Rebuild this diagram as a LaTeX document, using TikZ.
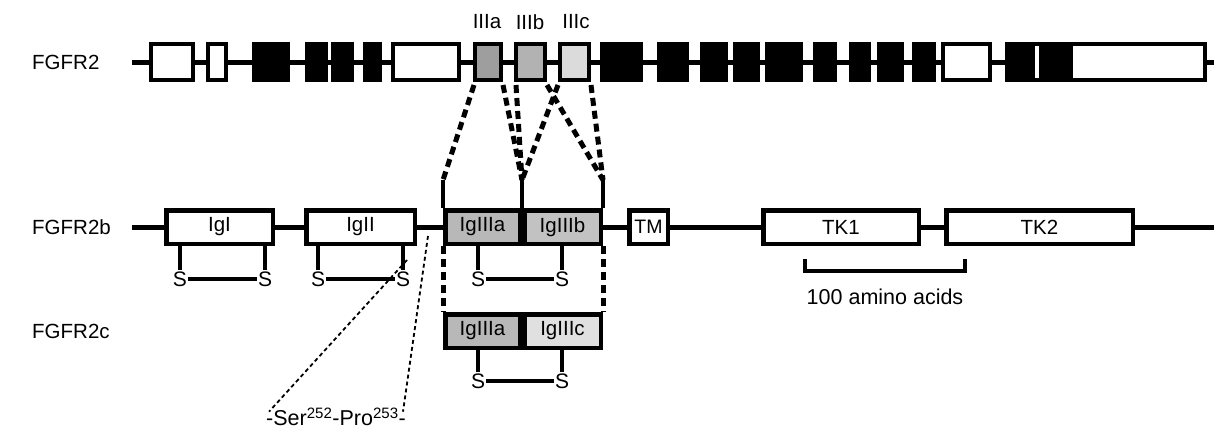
\documentclass[tikz,border=0pt]{standalone}
\usepackage{fontspec}
\setmainfont{Liberation Sans}
\begin{document}
\begin{tikzpicture}[x=1pt,y=-1pt,
  lbl/.style={font=\fontsize{20.5}{24}\selectfont, inner sep=0pt},
  ex/.style={draw, line width=4pt, minimum height=36pt, inner sep=0pt, anchor=center},
  dom/.style={draw, line width=4.5pt, minimum height=33.5pt, inner sep=0pt, anchor=center, fill=white, font=\fontsize{20.5}{24}\selectfont},
  bb/.style={line width=5pt},
  thin/.style={line width=4pt},
  bigdash/.style={line width=5pt, dash pattern=on 8pt off 5pt},
  dotline/.style={line width=1.8pt, dash pattern=on 4pt off 3pt},
  sl/.style={font=\fontsize{21}{24}\selectfont, inner sep=1pt}]
\useasboundingbox (0,0) rectangle (1217,432);
\definecolor{gA}{gray}{0.62}
\definecolor{gB}{gray}{0.70}
\definecolor{gC}{gray}{0.86}
\definecolor{dA}{gray}{0.72}
\definecolor{dB}{gray}{0.76}
\definecolor{dC}{gray}{0.88}

% ---------- row 1: FGFR2 gene ----------
\node[lbl, anchor=west] (l1) at (32,62) {FGFR2};
\coordinate (r1s) at (132,62);
\coordinate (r1e) at (1214,62);
\draw[bb] (r1s) -- (r1e);
\node[ex, fill=white, minimum width=42pt] (e1) at (172,62) {};
\node[ex, fill=white, minimum width=18pt] (e2) at (217,62) {};
\node[ex, fill=black, minimum width=34pt] (e3) at (271,62) {};
\node[ex, fill=black, minimum width=19pt] (e4) at (316.5,62) {};
\node[ex, fill=black, minimum width=19pt] (e5) at (342.5,62) {};
\node[ex, fill=black, minimum width=15pt] (e6) at (372.5,62) {};
\node[ex, fill=white, minimum width=66pt] (e7) at (426,62) {};
\node[ex, fill=gA, minimum width=26pt] (e8) at (488,62) {};
\node[ex, fill=gB, minimum width=29pt] (e9) at (530.5,62) {};
\node[ex, fill=gC, minimum width=29pt] (e10) at (574.5,62) {};
\node[ex, fill=black, minimum width=39pt] (e11) at (621.5,62) {};
\node[ex, fill=black, minimum width=28pt] (e12) at (673,62) {};
\node[ex, fill=black, minimum width=24pt] (e13) at (714,62) {};
\node[ex, fill=black, minimum width=23pt] (e14) at (746.5,62) {};
\node[ex, fill=black, minimum width=34pt] (e15) at (784,62) {};
\node[ex, fill=black, minimum width=20pt] (e16) at (825,62) {};
\node[ex, fill=black, minimum width=18pt] (e17) at (860,62) {};
\node[ex, fill=black, minimum width=23pt] (e18) at (890.5,62) {};
\node[ex, fill=black, minimum width=20pt] (e19) at (924,62) {};
\node[ex, fill=white, minimum width=47pt] (e20) at (966.5,62) {};
\node[ex, fill=white, minimum width=198pt] (e21) at (1106,62) {};
\fill (1005,42) rectangle (1035,82);
\fill (1039,42) rectangle (1073,82);

\node[lbl] (tIIIa) at (487,22) {IIIa};
\node[lbl] (tIIIb) at (530,22) {IIIb};
\node[lbl] (tIIIc) at (576,22) {IIIc};

% ---------- row 2: FGFR2b protein ----------
\node[lbl, anchor=west] (l2) at (32,227) {FGFR2b};
\coordinate (r2s) at (132,227);
\coordinate (r2e) at (1214,227);
\draw[bb] (r2s) -- (r2e);
\node[dom, minimum width=106.5pt] (IgI) at (219.5,227) {IgI};
\node[dom, minimum width=108.5pt] (IgII) at (360.5,227) {IgII};
\node[dom, fill=dA, minimum width=74.5pt] (b3a) at (482.5,227) {IgIIIa};
\node[dom, fill=dB, minimum width=76.5pt] (b3b) at (562.5,227) {IgIIIb};
\node[dom, minimum width=38.5pt, font=\fontsize{19.5}{22}\selectfont] (TM) at (648.5,227) {TM};
\node[dom, minimum width=155.5pt] (TK1) at (841,227) {TK1};
\node[dom, minimum width=186.5pt] (TK2) at (1039.5,227) {TK2};

% verticals above IgIII domains
\coordinate (v1) at (443,180);
\coordinate (v2) at (522,180);
\coordinate (v3) at (603,180);
\draw[thin] (v1) -- (b3a.north west);
\draw[thin] (v2) -- (b3a.north east);
\draw[thin] (v3) -- (b3b.north east);

% thick dashed splicing lines
\draw[bigdash] ([xshift=1pt,yshift=-3pt]e8.south west) -- (v1);
\draw[bigdash] ([yshift=-3pt]e8.south east) -- (v2);
\draw[bigdash] ([xshift=2pt,yshift=-3pt]e9.south west) -- (v2);
\draw[bigdash] ([yshift=-3pt]e9.south east) -- (v3);
\draw[bigdash] ([yshift=-3pt]e10.south west) -- (v2);
\draw[bigdash] ([yshift=-3pt]e10.south east) -- (v3);

% disulfide bonds row 2
\foreach \n/\xa/\xb in {IgI/180/265, IgII/318/403, b3/478/562}{
  \node[sl] (\n sa) at (\xa,279) {S};
  \node[sl] (\n sb) at (\xb,279) {S};
  \draw[thin] (\xa,245) -- (\n sa.north);
  \draw[thin] (\xb,245) -- (\n sb.north);
  \draw[thin] (\n sa.east) -- (\n sb.west);
}

% bracket
\coordinate (k1) at (805,259);
\coordinate (k2) at (965,259);
\draw[thin] (k1) -- ++(0,12) -| (k2);
\node[lbl, font=\fontsize{21.5}{24}\selectfont] (aa) at (885,297) {100 amino acids};

% dashed verticals to row 3
\draw[bigdash] (b3a.south west) -- ++(0,66);
\draw[bigdash] (b3b.south east) -- ++(0,66);

% ---------- row 3: FGFR2c ----------
\node[lbl, anchor=west] (l3) at (32,331) {FGFR2c};
\node[dom, fill=dA, minimum width=74.5pt] (c3a) at (482.5,331) {IgIIIa};
\node[dom, fill=dC, minimum width=76.5pt] (c3c) at (562.5,331) {IgIIIc};
\node[sl] (csa) at (478,381) {S};
\node[sl] (csb) at (562,381) {S};
\draw[thin] (478,349) -- (csa.north);
\draw[thin] (562,349) -- (csb.north);
\draw[thin] (csa.east) -- (csb.west);

% Ser-Pro label and dotted lines
\node[lbl, font=\fontsize{21.5}{24}\selectfont] (ser) at (336,417) {-Ser\textsuperscript{252}-Pro\textsuperscript{253}-};
\coordinate (pA) at (407,260);
\coordinate (pB) at (428,236);
\draw[dotline] (pA) -- ([xshift=3pt,yshift=-4pt]ser.north west);
\draw[dotline] (pB) -- ([xshift=-3pt,yshift=-4pt]ser.north east);
\end{tikzpicture}
\end{document}
